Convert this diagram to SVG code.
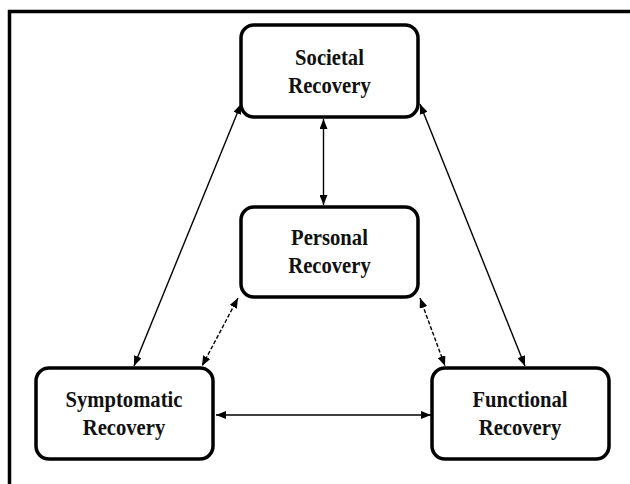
<svg xmlns="http://www.w3.org/2000/svg" width="630" height="484" viewBox="0 0 630 484">
<defs>
<marker id="ah" viewBox="0 0 10 8" refX="10" refY="4" markerWidth="10" markerHeight="8" markerUnits="userSpaceOnUse" orient="auto-start-reverse">
<path d="M0,0 L10,4 L0,8 Z" fill="#000"/>
</marker>
</defs>
<style>
.box{fill:#fff;stroke:#000;stroke-width:3.5}
.lbl{font-family:"Liberation Serif","DejaVu Serif",serif;font-weight:bold;font-size:24px;text-anchor:middle;fill:#111}
.c{stroke:#000;stroke-width:1.4;fill:none;marker-start:url(#ah);marker-end:url(#ah)}
.d{stroke-dasharray:4,2}
</style>
<rect width="630" height="484" fill="#fff"/>
<path d="M9.5,484 V11.5 H630" fill="none" stroke="#000" stroke-width="3.5"/>
<g id="connectors">
<line class="c" x1="323.5" y1="119" x2="323.5" y2="205"/>
<line class="c" x1="241" y1="104" x2="134" y2="366"/>
<line class="c" x1="420" y1="104" x2="525" y2="366"/>
<line class="c d" x1="238" y1="298" x2="202" y2="366"/>
<line class="c d" x1="420" y1="298" x2="445" y2="366"/>
<line class="c" x1="216" y1="415" x2="431" y2="415"/>
</g>
<g id="societal">
<rect class="box" x="241" y="25" width="177" height="92" rx="13"/>
<text class="lbl" transform="translate(329.5,65) scale(0.86,1)">Societal</text>
<text class="lbl" transform="translate(329.5,93) scale(0.86,1)">Recovery</text>
</g>
<g id="personal">
<rect class="box" x="241" y="207" width="177" height="90" rx="13"/>
<text class="lbl" transform="translate(329.5,245) scale(0.86,1)">Personal</text>
<text class="lbl" transform="translate(329.5,273) scale(0.86,1)">Recovery</text>
</g>
<g id="symptomatic">
<rect class="box" x="36" y="368" width="177" height="91" rx="13"/>
<text class="lbl" transform="translate(124,407) scale(0.86,1)">Symptomatic</text>
<text class="lbl" transform="translate(124,435) scale(0.86,1)">Recovery</text>
</g>
<g id="functional">
<rect class="box" x="432" y="368" width="177" height="91" rx="13"/>
<text class="lbl" transform="translate(520,407) scale(0.86,1)">Functional</text>
<text class="lbl" transform="translate(520,435) scale(0.86,1)">Recovery</text>
</g>
</svg>
